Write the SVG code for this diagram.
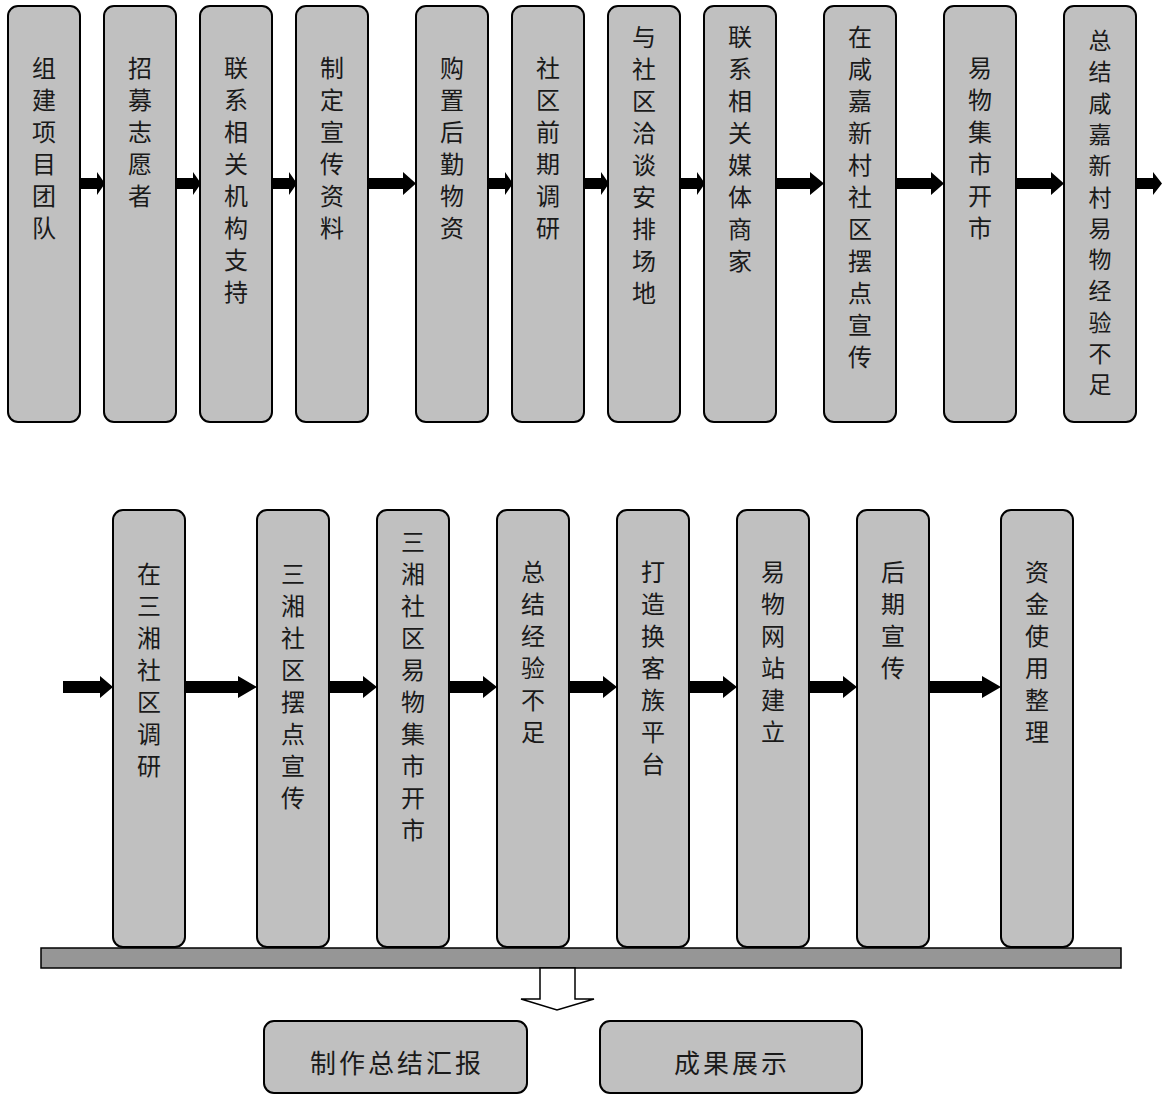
<svg xmlns="http://www.w3.org/2000/svg" width="1166" height="1095" viewBox="0 0 1166 1095">
<style>
.box{fill:#c0c0c0;stroke:#000;stroke-width:2}
.lbl{font-family:"Noto Sans CJK SC","Noto Sans",sans-serif;font-size:24px;fill:#1a1a1a;text-anchor:middle;dominant-baseline:central}
.sm{font-size:23px}
.hl{font-family:"Noto Sans CJK SC","Noto Sans",sans-serif;font-size:26px;fill:#1a1a1a;text-anchor:middle;dominant-baseline:central;letter-spacing:3px}
.arr{fill:#000}
.bar{fill:#969696;stroke:#000;stroke-width:1.5}
.hollow{fill:#fff;stroke:#000;stroke-width:1.5;stroke-linejoin:miter}
</style>
<rect width="1166" height="1095" fill="#fff"/>

<!-- top row -->
<g id="n1"><rect class="box" x="8" y="6" width="72" height="416" rx="10"/>
<text class="lbl"><tspan x="44" y="66">组</tspan><tspan x="44" y="98">建</tspan><tspan x="44" y="130">项</tspan><tspan x="44" y="162">目</tspan><tspan x="44" y="194">团</tspan><tspan x="44" y="226">队</tspan></text></g>
<g id="n2"><rect class="box" x="104" y="6" width="72" height="416" rx="10"/>
<text class="lbl"><tspan x="140" y="66">招</tspan><tspan x="140" y="98">募</tspan><tspan x="140" y="130">志</tspan><tspan x="140" y="162">愿</tspan><tspan x="140" y="194">者</tspan></text></g>
<g id="n3"><rect class="box" x="200" y="6" width="72" height="416" rx="10"/>
<text class="lbl"><tspan x="236" y="66">联</tspan><tspan x="236" y="98">系</tspan><tspan x="236" y="130">相</tspan><tspan x="236" y="162">关</tspan><tspan x="236" y="194">机</tspan><tspan x="236" y="226">构</tspan><tspan x="236" y="258">支</tspan><tspan x="236" y="290">持</tspan></text></g>
<g id="n4"><rect class="box" x="296" y="6" width="72" height="416" rx="10"/>
<text class="lbl"><tspan x="332" y="66">制</tspan><tspan x="332" y="98">定</tspan><tspan x="332" y="130">宣</tspan><tspan x="332" y="162">传</tspan><tspan x="332" y="194">资</tspan><tspan x="332" y="226">料</tspan></text></g>
<g id="n5"><rect class="box" x="416" y="6" width="72" height="416" rx="10"/>
<text class="lbl"><tspan x="452" y="66">购</tspan><tspan x="452" y="98">置</tspan><tspan x="452" y="130">后</tspan><tspan x="452" y="162">勤</tspan><tspan x="452" y="194">物</tspan><tspan x="452" y="226">资</tspan></text></g>
<g id="n6"><rect class="box" x="512" y="6" width="72" height="416" rx="10"/>
<text class="lbl"><tspan x="548" y="66">社</tspan><tspan x="548" y="98">区</tspan><tspan x="548" y="130">前</tspan><tspan x="548" y="162">期</tspan><tspan x="548" y="194">调</tspan><tspan x="548" y="226">研</tspan></text></g>
<g id="n7"><rect class="box" x="608" y="6" width="72" height="416" rx="10"/>
<text class="lbl"><tspan x="644" y="35">与</tspan><tspan x="644" y="67">社</tspan><tspan x="644" y="99">区</tspan><tspan x="644" y="131">洽</tspan><tspan x="644" y="163">谈</tspan><tspan x="644" y="195">安</tspan><tspan x="644" y="227">排</tspan><tspan x="644" y="259">场</tspan><tspan x="644" y="291">地</tspan></text></g>
<g id="n8"><rect class="box" x="704" y="6" width="72" height="416" rx="10"/>
<text class="lbl"><tspan x="740" y="35">联</tspan><tspan x="740" y="67">系</tspan><tspan x="740" y="99">相</tspan><tspan x="740" y="131">关</tspan><tspan x="740" y="163">媒</tspan><tspan x="740" y="195">体</tspan><tspan x="740" y="227">商</tspan><tspan x="740" y="259">家</tspan></text></g>
<g id="n9"><rect class="box" x="824" y="6" width="72" height="416" rx="10"/>
<text class="lbl"><tspan x="860" y="35">在</tspan><tspan x="860" y="67">咸</tspan><tspan x="860" y="99">嘉</tspan><tspan x="860" y="131">新</tspan><tspan x="860" y="163">村</tspan><tspan x="860" y="195">社</tspan><tspan x="860" y="227">区</tspan><tspan x="860" y="259">摆</tspan><tspan x="860" y="291">点</tspan><tspan x="860" y="323">宣</tspan><tspan x="860" y="355">传</tspan></text></g>
<g id="n10"><rect class="box" x="944" y="6" width="72" height="416" rx="10"/>
<text class="lbl"><tspan x="980" y="66">易</tspan><tspan x="980" y="98">物</tspan><tspan x="980" y="130">集</tspan><tspan x="980" y="162">市</tspan><tspan x="980" y="194">开</tspan><tspan x="980" y="226">市</tspan></text></g>
<g id="n11"><rect class="box" x="1064" y="6" width="72" height="416" rx="10"/>
<text class="lbl sm"><tspan x="1100" y="39">总</tspan><tspan x="1100" y="70.3">结</tspan><tspan x="1100" y="101.6">咸</tspan><tspan x="1100" y="132.9">嘉</tspan><tspan x="1100" y="164.2">新</tspan><tspan x="1100" y="195.5">村</tspan><tspan x="1100" y="226.8">易</tspan><tspan x="1100" y="258.1">物</tspan><tspan x="1100" y="289.4">经</tspan><tspan x="1100" y="320.7">验</tspan><tspan x="1100" y="352">不</tspan><tspan x="1100" y="383.3">足</tspan></text></g>

<!-- bottom row -->
<g id="m1"><rect class="box" x="113" y="510" width="72" height="437" rx="10"/>
<text class="lbl"><tspan x="149" y="572">在</tspan><tspan x="149" y="604">三</tspan><tspan x="149" y="636">湘</tspan><tspan x="149" y="668">社</tspan><tspan x="149" y="700">区</tspan><tspan x="149" y="732">调</tspan><tspan x="149" y="764">研</tspan></text></g>
<g id="m2"><rect class="box" x="257" y="510" width="72" height="437" rx="10"/>
<text class="lbl"><tspan x="293" y="572">三</tspan><tspan x="293" y="604">湘</tspan><tspan x="293" y="636">社</tspan><tspan x="293" y="668">区</tspan><tspan x="293" y="700">摆</tspan><tspan x="293" y="732">点</tspan><tspan x="293" y="764">宣</tspan><tspan x="293" y="796">传</tspan></text></g>
<g id="m3"><rect class="box" x="377" y="510" width="72" height="437" rx="10"/>
<text class="lbl"><tspan x="413" y="540">三</tspan><tspan x="413" y="572">湘</tspan><tspan x="413" y="604">社</tspan><tspan x="413" y="636">区</tspan><tspan x="413" y="668">易</tspan><tspan x="413" y="700">物</tspan><tspan x="413" y="732">集</tspan><tspan x="413" y="764">市</tspan><tspan x="413" y="796">开</tspan><tspan x="413" y="828">市</tspan></text></g>
<g id="m4"><rect class="box" x="497" y="510" width="72" height="437" rx="10"/>
<text class="lbl"><tspan x="533" y="570">总</tspan><tspan x="533" y="602">结</tspan><tspan x="533" y="634">经</tspan><tspan x="533" y="666">验</tspan><tspan x="533" y="698">不</tspan><tspan x="533" y="730">足</tspan></text></g>
<g id="m5"><rect class="box" x="617" y="510" width="72" height="437" rx="10"/>
<text class="lbl"><tspan x="653" y="570">打</tspan><tspan x="653" y="602">造</tspan><tspan x="653" y="634">换</tspan><tspan x="653" y="666">客</tspan><tspan x="653" y="698">族</tspan><tspan x="653" y="730">平</tspan><tspan x="653" y="762">台</tspan></text></g>
<g id="m6"><rect class="box" x="737" y="510" width="72" height="437" rx="10"/>
<text class="lbl"><tspan x="773" y="570">易</tspan><tspan x="773" y="602">物</tspan><tspan x="773" y="634">网</tspan><tspan x="773" y="666">站</tspan><tspan x="773" y="698">建</tspan><tspan x="773" y="730">立</tspan></text></g>
<g id="m7"><rect class="box" x="857" y="510" width="72" height="437" rx="10"/>
<text class="lbl"><tspan x="893" y="570">后</tspan><tspan x="893" y="602">期</tspan><tspan x="893" y="634">宣</tspan><tspan x="893" y="666">传</tspan></text></g>
<g id="m8"><rect class="box" x="1001" y="510" width="72" height="437" rx="10"/>
<text class="lbl"><tspan x="1037" y="570">资</tspan><tspan x="1037" y="602">金</tspan><tspan x="1037" y="634">使</tspan><tspan x="1037" y="666">用</tspan><tspan x="1037" y="698">整</tspan><tspan x="1037" y="730">理</tspan></text></g>

<g id="bar"><rect class="bar" x="41" y="948" width="1080" height="20"/></g>

<g id="r1"><rect class="box" x="264" y="1021" width="263" height="72" rx="10"/>
<text class="hl" x="397" y="1061">制作总结汇报</text></g>
<g id="r2"><rect class="box" x="600" y="1021" width="262" height="72" rx="10"/>
<text class="hl" x="732" y="1061">成果展示</text></g>

<g id="connectors">
<polygon class="arr" points="80,178 97,178 97,172 105,183.5 97,195 97,189 80,189"/>
<polygon class="arr" points="176,178 193,178 193,172 201,183.5 193,195 193,189 176,189"/>
<polygon class="arr" points="272,178 289,178 289,172 297,183.5 289,195 289,189 272,189"/>
<polygon class="arr" points="368,178 403,178 403,172 416,183.5 403,195 403,189 368,189"/>
<polygon class="arr" points="488,178 505,178 505,172 513,183.5 505,195 505,189 488,189"/>
<polygon class="arr" points="584,178 601,178 601,172 609,183.5 601,195 601,189 584,189"/>
<polygon class="arr" points="680,178 697,178 697,172 705,183.5 697,195 697,189 680,189"/>
<polygon class="arr" points="776,178 810,178 810,172 824,183.5 810,195 810,189 776,189"/>
<polygon class="arr" points="896,178 931,178 931,172 944,183.5 931,195 931,189 896,189"/>
<polygon class="arr" points="1016,178 1051,178 1051,172 1064,183.5 1051,195 1051,189 1016,189"/>
<polygon class="arr" points="1136,178 1153,178 1153,172 1162,183.5 1153,195 1153,189 1136,189"/>

<polygon class="arr" points="63,681 100,681 100,676 113,687 100,698 100,693 63,693"/>
<polygon class="arr" points="185,681 238,681 238,676 257,687 238,698 238,693 185,693"/>
<polygon class="arr" points="329,681 363,681 363,676 377,687 363,698 363,693 329,693"/>
<polygon class="arr" points="449,681 483,681 483,676 497,687 483,698 483,693 449,693"/>
<polygon class="arr" points="569,681 603,681 603,676 617,687 603,698 603,693 569,693"/>
<polygon class="arr" points="689,681 723,681 723,676 737,687 723,698 723,693 689,693"/>
<polygon class="arr" points="809,681 843,681 843,676 857,687 843,698 843,693 809,693"/>
<polygon class="arr" points="929,681 982,681 982,676 1001,687 982,698 982,693 929,693"/>

<polygon class="hollow" points="540,968 575,968 575,999 594,999 557,1010 521,999 540,999"/>
</g>
</svg>
